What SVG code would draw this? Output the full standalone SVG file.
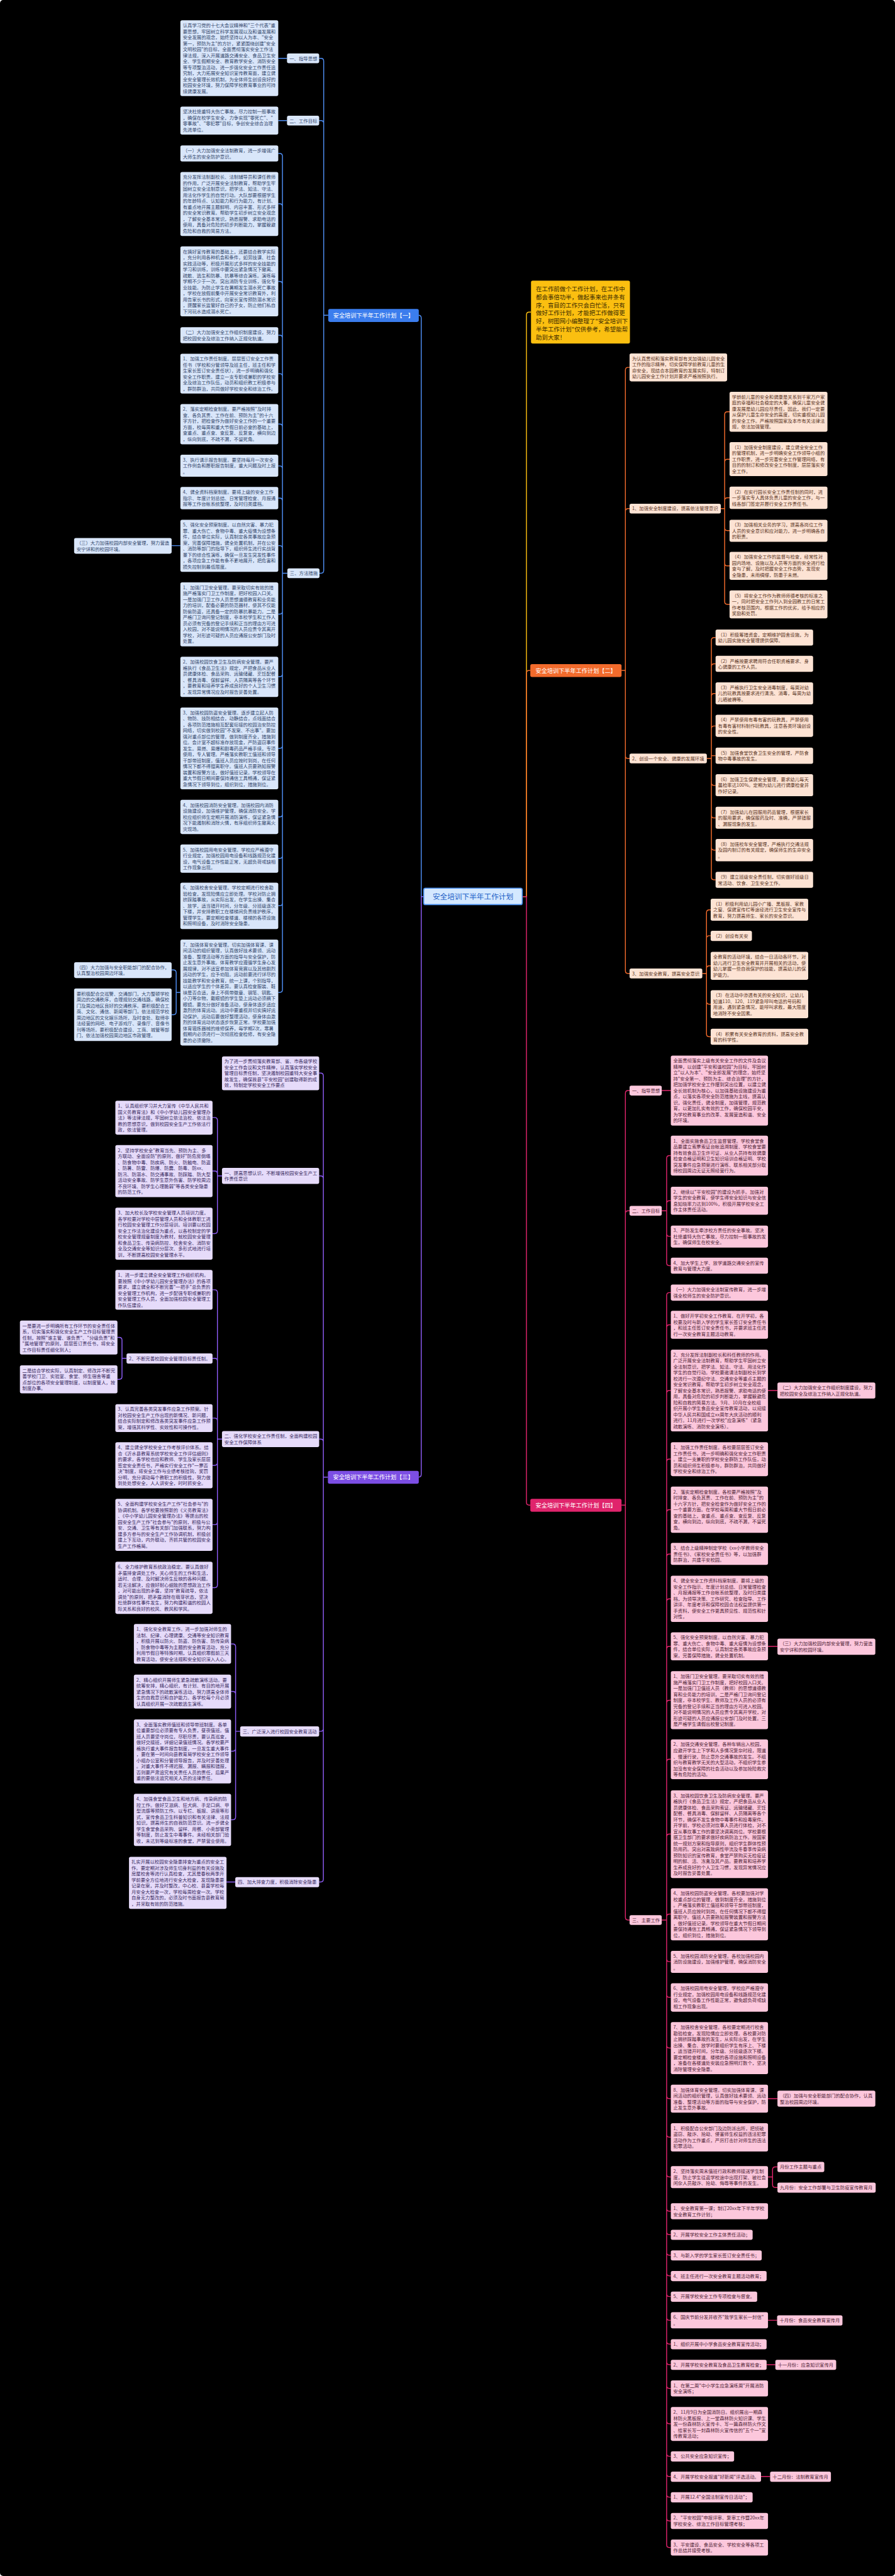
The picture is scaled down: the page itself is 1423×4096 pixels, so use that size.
<svg xmlns="http://www.w3.org/2000/svg" width="1423" height="4096" viewBox="0 0 1423 4096">
<style>
text{font-family:"Noto Sans CJK SC","Noto Sans",sans-serif;font-size:13.3px}
rect{rx:5px;ry:5px}
.b1 rect{fill:#d9e6fa}.b1 text{fill:#33466b}
.b2 rect{fill:#fde3d4}.b2 text{fill:#5a3524}
.b3 rect{fill:#e6dbfa}.b3 text{fill:#382a5e}
.b4 rect{fill:#fcc7dc}.b4 text{fill:#4f2436}
.h text{fill:#fff;font-size:16.5px}
.c{fill:none;stroke-width:2.6}
.c1{stroke:#4f8ff5}.c2{stroke:#f26b2c}.c3{stroke:#8d5cf5}.c4{stroke:#e0246c}.c5{stroke:#fbbf10}
</style>
<rect width="1423" height="4096" fill="#000"/>
<g transform="scale(0.5558)">
<g id="connectors">
<path class="c c5" d="M1494,2565H1506V901Q1506,893 1514,893H1519"/>
<path class="c c1" d="M1212,2565H1205V910Q1205,902 1197,902"/>
<path class="c c2" d="M1494,2565H1506V1926Q1506,1918 1514,1918H1517"/>
<path class="c c3" d="M1212,2565H1205V4218Q1205,4226 1197,4226"/>
<path class="c c4" d="M1494,2565H1506V4298Q1506,4306 1514,4306H1517"/>
<path class="c c1" d="M939,902H926V175Q926,167 918,167H913 M926,353Q926,345 918,345H913 M926,902V1632Q926,1640 918,1640H913 M821,167H796 M821,345H796"/>
<path class="c c1" d="M822,1640H808V447Q808,439 800,439H796 M808,591Q808,583 800,583H796 M808,813Q808,805 800,805H796 M808,967Q808,959 800,959H796 M808,1077Q808,1069 800,1069H796 M808,1221Q808,1213 800,1213H796 M808,1341Q808,1333 800,1333H796 M808,1433Q808,1425 800,1425H796 M808,1569Q808,1561 800,1561H796 M822,1640H808V2831Q808,2839 800,2839H796 M808,1749Q808,1757 800,1757H796 M808,1928Q808,1936 800,1936H796 M808,2133Q808,2141 800,2141H796 M808,2329Q808,2337 800,2337H796 M808,2448Q808,2456 800,2456H796 M808,2583Q808,2591 800,2591H796"/>
<path class="c c1" d="M516,1561H491 M516,2839H504V2783Q504,2775 496,2775H491 M504,2839V2895Q504,2903 496,2903H491"/>
<path class="c c2" d="M1778,1918H1789V1059Q1789,1051 1797,1051H1801 M1789,1463Q1789,1455 1797,1455H1801 M1789,1918V2777Q1789,2785 1797,2785H1801 M1789,2162Q1789,2170 1797,2170H1801"/>
<path class="c c2" d="M2062,1455H2073V1186Q2073,1178 2081,1178H2087 M2073,1322Q2073,1314 2081,1314H2087 M2073,1432Q2073,1424 2081,1424H2087 M2073,1455V1721Q2073,1729 2081,1729H2087 M2073,1510Q2073,1518 2081,1518H2087 M2073,1611Q2073,1619 2081,1619H2087"/>
<path class="c c2" d="M2022,2170H2035V1832Q2035,1824 2043,1824H2047 M2035,1907Q2035,1899 2043,1899H2047 M2035,1992Q2035,1984 2043,1984H2047 M2035,2085Q2035,2077 2043,2077H2047 M2035,2162H2047 M2035,2170V2509Q2035,2517 2043,2517H2047 M2035,2239Q2035,2247 2043,2247H2047 M2035,2332Q2035,2340 2043,2340H2047 M2035,2424Q2035,2432 2043,2432H2047"/>
<path class="c c2" d="M2009,2785H2021V2611Q2021,2603 2029,2603H2033 M2021,2685Q2021,2677 2029,2677H2033 M2021,2771Q2021,2763 2029,2763H2033 M2021,2785V2958Q2021,2966 2029,2966H2033 M2021,2865Q2021,2873 2029,2873H2033"/>
<path class="c c3" d="M938,4226H925V3078Q925,3070 917,3070H913 M925,3372Q925,3364 917,3364H913 M925,4125Q925,4117 917,4117H913 M925,4226V5376Q925,5384 917,5384H913 M925,4945Q925,4953 917,4953H913"/>
<path class="c c3" d="M635,3364H622V3205Q622,3197 614,3197H608 M622,3358Q622,3350 614,3350H608 M622,3364V3521Q622,3529 614,3529H608"/>
<path class="c c3" d="M635,4117H622V3698Q622,3690 614,3690H608 M622,3894Q622,3886 614,3886H608 M622,4065Q622,4057 614,4057H608 M622,4117V4534Q622,4542 614,4542H608 M622,4184Q622,4192 614,4192H608 M622,4354Q622,4362 614,4362H608"/>
<path class="c c3" d="M362,3886H349V3834Q349,3826 341,3826H336 M349,3886V3938Q349,3946 341,3946H336"/>
<path class="c c3" d="M687,4953H674V4711Q674,4703 666,4703H661 M674,4847Q674,4839 666,4839H661 M674,4953V5198Q674,5206 666,5206H661 M674,5002Q674,5010 666,5010H661 M674,5384H648"/>
<path class="c c4" d="M1778,4306H1789V3128Q1789,3120 1797,3120H1801 M1789,3472Q1789,3464 1797,3464H1801 M1789,4306V5485Q1789,5493 1797,5493H1801 M1893,3120H1919"/>
<path class="c c4" d="M1893,3464H1907V3314Q1907,3306 1915,3306H1919 M1907,3443Q1907,3435 1915,3435H1919 M1907,3464V3613Q1907,3621 1915,3621H1919 M1907,3529Q1907,3537 1915,3537H1919"/>
<path class="c c4" d="M1893,5493H1907V3706Q1907,3698 1915,3698H1919 M1907,3798Q1907,3790 1915,3790H1919 M1907,3986Q1907,3978 1915,3978H1919 M1907,4182Q1907,4174 1915,4174H1919 M1907,4327Q1907,4319 1915,4319H1919 M1907,4454Q1907,4446 1915,4446H1919 M1907,4582Q1907,4574 1915,4574H1919 M1907,4718Q1907,4710 1915,4710H1919 M1907,4872Q1907,4864 1915,4864H1919 M1907,5041Q1907,5033 1915,5033H1919 M1907,5255Q1907,5247 1915,5247H1919 M1907,5484Q1907,5476 1915,5476H1919 M1893,5493H1907V7280Q1907,7288 1915,7288H1919 M1907,5604Q1907,5612 1915,5612H1919 M1907,5706Q1907,5714 1915,5714H1919 M1907,5851Q1907,5859 1915,5859H1919 M1907,5996Q1907,6004 1915,6004H1919 M1907,6106Q1907,6114 1915,6114H1919 M1907,6220Q1907,6228 1915,6228H1919 M1907,6318Q1907,6326 1915,6326H1919 M1907,6385Q1907,6393 1915,6393H1919 M1907,6444Q1907,6452 1915,6452H1919 M1907,6503Q1907,6511 1915,6511H1919 M1907,6562Q1907,6570 1915,6570H1919 M1907,6630Q1907,6638 1915,6638H1919 M1907,6698Q1907,6706 1915,6706H1919 M1907,6757Q1907,6765 1915,6765H1919 M1907,6825Q1907,6833 1915,6833H1919 M1907,6926Q1907,6934 1915,6934H1919 M1907,7019Q1907,7027 1915,7027H1919 M1907,7077Q1907,7085 1915,7085H1919 M1907,7136Q1907,7144 1915,7144H1919 M1907,7204Q1907,7212 1915,7212H1919"/>
<path class="c c4" d="M2197,3978H2224 M2197,4710H2224 M2197,6004H2224 M2197,6228H2210V6207Q2210,6199 2218,6199H2224 M2210,6228V6250Q2210,6258 2218,6258H2224 M2197,6638H2223 M2193,6765H2218 M2177,7085H2203"/>
</g>
<g id="center"><rect x="1212" y="2541" width="282" height="47" rx="8" fill="#d4e8ff" stroke="#4a90f0" stroke-width="3"/><text x="1353" y="2572" text-anchor="middle" style="font-size:21px;fill:#1c5fc7">安全培训下半年工作计划</text></g>
<g id="intro"><rect x="1519" y="803" width="283" height="180" fill="#fbbf10"/><text x="1533" y="833" style="font-size:17px;fill:#3a2a00"><tspan x="1533">在工作前做个工作计划，在工作中</tspan><tspan x="1533" dy="23">都会事倍功半，做起事来也井条有</tspan><tspan x="1533" dy="23">序，盲目的工作只会白忙活，只有</tspan><tspan x="1533" dy="23">做好工作计划，才能把工作做得更</tspan><tspan x="1533" dy="23">好，树图网小编整理了"安全培训下</tspan><tspan x="1533" dy="23">半年工作计划"仅供参考，希望能帮</tspan><tspan x="1533" dy="23">助到大家！</tspan></text></g>

<g id="branch1" class="h"><rect x="939" y="884" width="259" height="37" fill="#3b7ded"/><text x="1068.5" y="908.5" text-anchor="middle">安全培训下半年工作计划【一】</text></g>
<g id="branch2" class="h"><rect x="1517" y="1900" width="261" height="37" fill="#f26b2c"/><text x="1647.5" y="1924.5" text-anchor="middle">安全培训下半年工作计划【二】</text></g>
<g id="branch3" class="h"><rect x="938" y="4208" width="260" height="37" fill="#7c4ee4"/><text x="1068" y="4232.5" text-anchor="middle">安全培训下半年工作计划【三】</text></g>
<g id="branch4" class="h"><rect x="1517" y="4288" width="261" height="37" fill="#e0246c"/><text x="1647.5" y="4312.5" text-anchor="middle">安全培训下半年工作计划【四】</text></g>

<g class="b1">
<g id="b1a"><rect x="821" y="153" width="92" height="28"/><text x="828" y="172">一、指导思想</text></g>
<g id="b1b"><rect x="821" y="331" width="92" height="28"/><text x="828" y="350">二、工作目标</text></g>
<g id="b1c"><rect x="822" y="1626" width="92" height="28"/><text x="829" y="1645">三、方法措施</text></g>
<g id="b1-1"><rect x="516" y="58" width="280" height="217"/><text x="523" y="77.5"><tspan x="523">认真学习党的十七大会议精神和"三个代表"重</tspan><tspan x="523" dy="17.1">要思想，牢固树立科学发展观以及和谐发展和</tspan><tspan x="523" dy="17.1">安全发展的观念，始终坚持以人为本、"安全</tspan><tspan x="523" dy="17.1">第一，预防为主"的方针，紧紧围绕创建"安全</tspan><tspan x="523" dy="17.1">文明校园"的目标，全面贯彻落实安全工作法</tspan><tspan x="523" dy="17.1">律法规，深入开展道路交通安全、食品卫生安</tspan><tspan x="523" dy="17.1">全、学生假期安全、教育教学安全、消防安全</tspan><tspan x="523" dy="17.1">等专项整治活动，进一步强化安全工作责任追</tspan><tspan x="523" dy="17.1">究制，大力拓展安全知识宣传教育面，建立健</tspan><tspan x="523" dy="17.1">全安全管理长效机制，为全体师生创设良好的</tspan><tspan x="523" dy="17.1">校园安全环境，努力保障学校教育事业的可持</tspan><tspan x="523" dy="17.1">续健康发展。</tspan></text></g>
<g id="b1-2"><rect x="516" y="305" width="280" height="80"/><text x="523" y="324.5"><tspan x="523">坚决杜绝重特大伤亡事故，尽力控制一般事故</tspan><tspan x="523" dy="17.1">，确保在校学生安全，力争实现"零死亡"、"</tspan><tspan x="523" dy="17.1">零事故"、"零犯罪"目标，争创安全综合治理</tspan><tspan x="523" dy="17.1">先进单位。</tspan></text></g>
<g id="b1-3"><rect x="516" y="416" width="280" height="46"/><text x="523" y="435.5"><tspan x="523">（一）大力加强安全法制教育，进一步增强广</tspan><tspan x="523" dy="17.1">大师生的安全防护意识。</tspan></text></g>
<g id="b1-4"><rect x="516" y="492" width="280" height="183"/><text x="523" y="511.5"><tspan x="523">充分发挥法制副校长、法制辅导员和课任教师</tspan><tspan x="523" dy="17.1">的作用，广泛开展安全法制教育，帮助学生牢</tspan><tspan x="523" dy="17.1">固树立安全法制意识，把学法、知法、守法、</tspan><tspan x="523" dy="17.1">用法化作学生的自觉行动。大队部要根据学生</tspan><tspan x="523" dy="17.1">的年龄特点、认知能力和行为能力，有计划、</tspan><tspan x="523" dy="17.1">有重点地开展主题鲜明、内容丰富、形式多样</tspan><tspan x="523" dy="17.1">的安全常识教育。帮助学生初步树立安全观念</tspan><tspan x="523" dy="17.1">，了解安全基本常识，熟悉报警、求助电话的</tspan><tspan x="523" dy="17.1">使用，具备对危险的初步判断能力，掌握躲避</tspan><tspan x="523" dy="17.1">危险和自救的简易方法。</tspan></text></g>
<g id="b1-5"><rect x="516" y="705" width="280" height="200"/><text x="523" y="724.5"><tspan x="523">在搞好宣传教育的基础上，还要结合教学实际</tspan><tspan x="523" dy="17.1">，充分利用各种机会和条件，如劳技课、社会</tspan><tspan x="523" dy="17.1">实践活动等，积极开展形式多样的安全技能的</tspan><tspan x="523" dy="17.1">学习和训练，训练中要突出紧急情况下撤离、</tspan><tspan x="523" dy="17.1">疏散、逃生和防暴、抗暴等综合演练。演练每</tspan><tspan x="523" dy="17.1">学期不少于一次。突出消防专业训练，强化专</tspan><tspan x="523" dy="17.1">业技能。为防止学生在暑期发生溺水死亡事故</tspan><tspan x="523" dy="17.1">，学校在放假前集中开展安全常识教育外，利</tspan><tspan x="523" dy="17.1">用告家长书的形式，向家长宣传预防溺水常识</tspan><tspan x="523" dy="17.1">，提醒家长监管好自己的子女，防止他们私自</tspan><tspan x="523" dy="17.1">下河玩水造成溺水死亡。</tspan></text></g>
<g id="b1-6"><rect x="516" y="936" width="280" height="46"/><text x="523" y="955.5"><tspan x="523">（二）大力加强安全工作组织制度建设，努力</tspan><tspan x="523" dy="17.1">把校园安全及综治工作纳入正规化轨道。</tspan></text></g>
<g id="b1-7"><rect x="516" y="1012" width="280" height="114"/><text x="523" y="1031.5"><tspan x="523">1、加强工作责任制度。层层签订安全工作责</tspan><tspan x="523" dy="17.1">任书（学校和分管领导及班主任，班主任和学</tspan><tspan x="523" dy="17.1">生家长签订安全责任状），进一步明确和强化</tspan><tspan x="523" dy="17.1">安全工作职责。建立一支专职或兼职的学校安</tspan><tspan x="523" dy="17.1">全及综治工作队伍，动员和组织教工积极参与</tspan><tspan x="523" dy="17.1">，群防群治，共同做好学校安全和综治工作。</tspan></text></g>
<g id="b1-8"><rect x="516" y="1156" width="280" height="115"/><text x="523" y="1175.5"><tspan x="523">2、落实定期检查制度。要严格按照"及时排</tspan><tspan x="523" dy="17.1">查、各负其责、工作在前、预防为主"的十六</tspan><tspan x="523" dy="17.1">字方针，把检查作为做好安全工作的一个重要</tspan><tspan x="523" dy="17.1">方面，校每周和重大节假日前必查的基础上，</tspan><tspan x="523" dy="17.1">查重点、重点查、查反复、反复查，横向到边</tspan><tspan x="523" dy="17.1">，纵向到底，不疏不漏，不留死角。</tspan></text></g>
<g id="b1-9"><rect x="516" y="1301" width="280" height="63"/><text x="523" y="1320.5"><tspan x="523">3、执行请示报告制度。要坚持每月一次安全</tspan><tspan x="523" dy="17.1">工作例会和履职报告制度，重大问题及时上报</tspan><tspan x="523" dy="17.1">。</tspan></text></g>
<g id="b1-10"><rect x="516" y="1393" width="280" height="64"/><text x="523" y="1412.5"><tspan x="523">4、健全资料档案制度。要将上级的安全工作</tspan><tspan x="523" dy="17.1">指示、年度计划总结、日常管理检查、月报通</tspan><tspan x="523" dy="17.1">报等工作台帐系统整理，及时归类建档。</tspan></text></g>
<g id="b1-11"><rect x="516" y="1487" width="280" height="149"/><text x="523" y="1506.5"><tspan x="523">5、强化安全预案制度。以自然灾害、暴力犯</tspan><tspan x="523" dy="17.1">罪、重大伤亡、食物中毒、重大疫情为设想条</tspan><tspan x="523" dy="17.1">件，结合单位实际，认真制定各类事故应急预</tspan><tspan x="523" dy="17.1">案，完善保障措施，健全处置机制，并在公安</tspan><tspan x="523" dy="17.1">、消防等部门的指导下，组织师生进行实战背</tspan><tspan x="523" dy="17.1">景下的综合性演练，确保一旦发生突发性事件</tspan><tspan x="523" dy="17.1">，各项应急工作能有条不紊地展开，把危害和</tspan><tspan x="523" dy="17.1">损失控制到最低限度。</tspan></text></g>
<g id="b1-12"><rect x="516" y="1666" width="280" height="183"/><text x="523" y="1685.5"><tspan x="523">1、加强门卫安全管理。要采取切实有效的措</tspan><tspan x="523" dy="17.1">施严格落实门卫工作制度，把好校园入口关。</tspan><tspan x="523" dy="17.1">一是加强门卫工作人员思想道德教育和业务能</tspan><tspan x="523" dy="17.1">力的培训，配备必要的防范器材，使其不仅能</tspan><tspan x="523" dy="17.1">防偷防盗，还具备一定的防暴抗暴能力。二是</tspan><tspan x="523" dy="17.1">严格门卫询问登记制度，非本校学生和工作人</tspan><tspan x="523" dy="17.1">员必须有完备的登记手续和正当的理由方可进</tspan><tspan x="523" dy="17.1">入校园，对不能说明情况的人员应责令其离开</tspan><tspan x="523" dy="17.1">学校，对形迹可疑的人员应通报公安部门及时</tspan><tspan x="523" dy="17.1">处置。</tspan></text></g>
<g id="b1-13"><rect x="516" y="1879" width="280" height="115"/><text x="523" y="1898.5"><tspan x="523">2、加强校园饮食卫生及防病安全管理。要严</tspan><tspan x="523" dy="17.1">格执行《食品卫生法》规定，严把食品从业人</tspan><tspan x="523" dy="17.1">员健康体检、食品采购、运输储藏、烹饪配餐</tspan><tspan x="523" dy="17.1">、餐具消毒、保鲜留样、人员隔离等各个环节</tspan><tspan x="523" dy="17.1">，要教育和培养学生养成良好的个人卫生习惯</tspan><tspan x="523" dy="17.1">，发现异常情况应及时报告妥善处置。</tspan></text></g>
<g id="b1-14"><rect x="516" y="2024" width="280" height="234"/><text x="523" y="2043.5"><tspan x="523">3、加强校园防盗安全管理。逐步建立起人防</tspan><tspan x="523" dy="17.1">、物防、技防相结合，动静结合，点线面结合</tspan><tspan x="523" dy="17.1">，各项防范措施相互配套衔接的校园治安防控</tspan><tspan x="523" dy="17.1">网络，切实做到校园"不发案、不出事"。要加</tspan><tspan x="523" dy="17.1">强对重点部位的管理，做到制度齐全，措施到</tspan><tspan x="523" dy="17.1">位。会计室不超标准存放现金，严防盗窃事件</tspan><tspan x="523" dy="17.1">发生。易燃、易爆和剧毒药品严格手续，专项</tspan><tspan x="523" dy="17.1">使用，专人管理。严格落实教职工值班和领导</tspan><tspan x="523" dy="17.1">干部带班制度，值班人员应按时到岗，在任何</tspan><tspan x="523" dy="17.1">情况下都不得擅离职守。值班人员要熟知报警</tspan><tspan x="523" dy="17.1">装置和报警方法，做好值班记录。学校领导在</tspan><tspan x="523" dy="17.1">重大节假日期间要保持通信工具畅通，保证紧</tspan><tspan x="523" dy="17.1">急情况下领导到位，组织到位，措施到位。</tspan></text></g>
<g id="b1-15"><rect x="516" y="2288" width="280" height="98"/><text x="523" y="2307.5"><tspan x="523">4、加强校园消防安全管理。加强校园内消防</tspan><tspan x="523" dy="17.1">设施建设，加强维护管理，确保消防安全。学</tspan><tspan x="523" dy="17.1">校应组织师生定期开展消防演练，保证紧急情</tspan><tspan x="523" dy="17.1">况下能遏制和消除火情，有序组织师生撤离火</tspan><tspan x="523" dy="17.1">灾现场。</tspan></text></g>
<g id="b1-16"><rect x="516" y="2416" width="280" height="81"/><text x="523" y="2435.5"><tspan x="523">5、加强校园用电安全管理。学校应严格遵守</tspan><tspan x="523" dy="17.1">行业规定，加强校园用电设备和线路规范化建</tspan><tspan x="523" dy="17.1">设，电气设备工作性能正常，无超负荷或缺相</tspan><tspan x="523" dy="17.1">工作现象出现。</tspan></text></g>
<g id="b1-17"><rect x="516" y="2525" width="280" height="133"/><text x="523" y="2544.5"><tspan x="523">6、加强校舍安全管理。学校定期进行校舍勘</tspan><tspan x="523" dy="17.1">验检查，发现险情应立即处理。学校对防止拥</tspan><tspan x="523" dy="17.1">挤踩踏事故，从实际出发，在学生出操、集合</tspan><tspan x="523" dy="17.1">、放学，适当错开时间，分年级、分班级逐次</tspan><tspan x="523" dy="17.1">下楼，并安排教职工在楼梯间负责维护秩序，</tspan><tspan x="523" dy="17.1">管理学生。要定期检查楼道、楼梯的各项设施</tspan><tspan x="523" dy="17.1">和照明设备，及时消除安全隐患。</tspan></text></g>
<g id="b1-18"><rect x="516" y="2688" width="280" height="303"/><text x="523" y="2707.5"><tspan x="523">7、加强体育安全管理。切实加强体育课、课</tspan><tspan x="523" dy="17.1">间活动的组织管理，认真做好技术要领、运动</tspan><tspan x="523" dy="17.1">准备、整理活动等方面的指导与安全保护，防</tspan><tspan x="523" dy="17.1">止发生意外事故。体育教学应遵循学生身心发</tspan><tspan x="523" dy="17.1">展规律，对不适宜参加体育竞赛以及其他剧烈</tspan><tspan x="523" dy="17.1">运动的学生，应予劝阻。运动前要进行详尽的</tspan><tspan x="523" dy="17.1">技能教学和安全教育，统一上课，个别指导，</tspan><tspan x="523" dy="17.1">以适应学生的个体差异。要认真检查服装、鞋</tspan><tspan x="523" dy="17.1">袜是否合适，身上不佩带徽章、钢笔、钥匙、</tspan><tspan x="523" dy="17.1">小刀等杂物，戴眼镜的学生垫上运动必须摘下</tspan><tspan x="523" dy="17.1">眼镜。要充分做好准备活动，使身体逐步适应</tspan><tspan x="523" dy="17.1">激烈的体育运动。运动中要重视并切实搞好运</tspan><tspan x="523" dy="17.1">动保护。运动后要做好整理活动，使身体由激</tspan><tspan x="523" dy="17.1">烈的体育运动状态逐步恢复正常。学校要加强</tspan><tspan x="523" dy="17.1">体育锻炼器械的维修保养，每学期2次，寒暑</tspan><tspan x="523" dy="17.1">假期内必须进行一次彻底检查检修，有安全隐</tspan><tspan x="523" dy="17.1">患的必须撤除。</tspan></text></g>
<g id="b1-19"><rect x="212" y="1539" width="279" height="45"/><text x="219" y="1558.5"><tspan x="219">（三）大力加强校园内部安全管理，努力营造</tspan><tspan x="219" dy="17.1">安宁详和的校园环境。</tspan></text></g>
<g id="b1-20"><rect x="212" y="2753" width="279" height="45"/><text x="219" y="2772.5"><tspan x="219">（四）大力加强与安全职能部门的配合协作，</tspan><tspan x="219" dy="17.1">认真整治校园周边环境。</tspan></text></g>
<g id="b1-21"><rect x="212" y="2828" width="279" height="150"/><text x="219" y="2847.5"><tspan x="219">要积极配合交巡警、交通部门，大力整顿学校</tspan><tspan x="219" dy="17.1">周边的交通秩序，合理规划交通线路，确保校</tspan><tspan x="219" dy="17.1">门及周边地区良好的交通秩序。要积极配合工</tspan><tspan x="219" dy="17.1">商、文化、通信、新闻等部门，依法规范学校</tspan><tspan x="219" dy="17.1">周边地区的文化娱乐场所，及时查处、取缔非</tspan><tspan x="219" dy="17.1">法经营的网吧、电子游戏厅、录像厅、音像书</tspan><tspan x="219" dy="17.1">刊等场所。要积极配合建设、工商、城管等部</tspan><tspan x="219" dy="17.1">门，依法加强校园周边地区市政管理。</tspan></text></g>
</g>

<g class="b2">
<g id="b2a"><rect x="1801" y="1011" width="279" height="80"/><text x="1808" y="1030.5"><tspan x="1808">为认真贯彻和落实教育部有关加强幼儿园安全</tspan><tspan x="1808" dy="17.1">工作的指示精神，切实保障学前教育儿童的生</tspan><tspan x="1808" dy="17.1">命安全，现结合本园教育的发展实际，特制订</tspan><tspan x="1808" dy="17.1">幼儿园安全工作计划并要求严格按照执行。</tspan></text></g>
<g id="b2b"><rect x="1801" y="1441" width="261" height="28"/><text x="1808" y="1460">1、加强安全制度建设，提高依法管理意识</text></g>
<g id="b2c"><rect x="1801" y="2156" width="221" height="28"/><text x="1808" y="2175">2、创设一个安全、健康的发展环境</text></g>
<g id="b2d"><rect x="1801" y="2771" width="208" height="28"/><text x="1808" y="2790">3、加强安全教育，提高安全意识</text></g>
<g id="b2b-0"><rect x="2087" y="1121" width="280" height="114"/><text x="2094" y="1140.5"><tspan x="2094">学龄前儿童的安全和健康是关系到千家万户家</tspan><tspan x="2094" dy="17.1">庭的幸福和社会稳定的大事，确保儿童安全健</tspan><tspan x="2094" dy="17.1">康发展是幼儿园应尽责任。因此，我们一定要</tspan><tspan x="2094" dy="17.1">从保护儿童生命安全的高度，切实重视幼儿园</tspan><tspan x="2094" dy="17.1">的安全工作。严格按照国家及本市有关法律法</tspan><tspan x="2094" dy="17.1">规，依法加强管理。</tspan></text></g>
<g id="b2b-1"><rect x="2087" y="1265" width="280" height="97"/><text x="2094" y="1284.5"><tspan x="2094">（1）加强安全制度建设，建立健全安全工作</tspan><tspan x="2094" dy="17.1">的管理机制，进一步明确安全工作领导小组的</tspan><tspan x="2094" dy="17.1">工作职责，进一步完善安全工作管理网络，有</tspan><tspan x="2094" dy="17.1">目的的制订和修改安全工作制度，层层落实安</tspan><tspan x="2094" dy="17.1">全工作。</tspan></text></g>
<g id="b2b-2"><rect x="2087" y="1392" width="280" height="64"/><text x="2094" y="1411.5"><tspan x="2094">（2）在实行园长安全工作责任制的同时，进</tspan><tspan x="2094" dy="17.1">一步落实专人具体负责儿童的安全工作，与一</tspan><tspan x="2094" dy="17.1">线各部门签定并履行安全工作责任书。</tspan></text></g>
<g id="b2b-3"><rect x="2087" y="1487" width="280" height="63"/><text x="2094" y="1506.5"><tspan x="2094">（3）加强相关业务的学习，提高各岗位工作</tspan><tspan x="2094" dy="17.1">人员的安全意识和应对能力，进一步明确各自</tspan><tspan x="2094" dy="17.1">的职责。</tspan></text></g>
<g id="b2b-4"><rect x="2087" y="1579" width="280" height="80"/><text x="2094" y="1598.5"><tspan x="2094">（4）加强安全工作的监督与检查，经常性对</tspan><tspan x="2094" dy="17.1">园内场地、设施以及人员等方面的安全进行检</tspan><tspan x="2094" dy="17.1">查与了解，及时把握安全工作态势，发现安</tspan><tspan x="2094" dy="17.1">全隐患，未雨绸缪，防患于未燃。</tspan></text></g>
<g id="b2b-5"><rect x="2087" y="1689" width="280" height="80"/><text x="2094" y="1708.5"><tspan x="2094">（5）将安全工作作为教师师德考核的标准之</tspan><tspan x="2094" dy="17.1">一，同时把安全工作列入到全园教工的日常工</tspan><tspan x="2094" dy="17.1">作考核范围内，根据工作的优劣，给予相应的</tspan><tspan x="2094" dy="17.1">奖励和处罚。</tspan></text></g>
<g id="b2c-1"><rect x="2047" y="1801" width="279" height="46"/><text x="2054" y="1820.5"><tspan x="2054">（1）积极筹措资金，定期维护园舍设施，为</tspan><tspan x="2054" dy="17.1">幼儿园实施安全管理提供保障。</tspan></text></g>
<g id="b2c-2"><rect x="2047" y="1876" width="279" height="46"/><text x="2054" y="1895.5"><tspan x="2054">（2）严格按要求聘用符合任职资格要求、身</tspan><tspan x="2054" dy="17.1">心健康的工作人员。</tspan></text></g>
<g id="b2c-3"><rect x="2047" y="1952" width="279" height="63"/><text x="2054" y="1971.5"><tspan x="2054">（3）严格执行卫生安全消毒制度，每周对幼</tspan><tspan x="2054" dy="17.1">儿的玩教具按要求进行清洗、消毒，每周为幼</tspan><tspan x="2054" dy="17.1">儿晒被褥等。</tspan></text></g>
<g id="b2c-4"><rect x="2047" y="2045" width="279" height="63"/><text x="2054" y="2064.5"><tspan x="2054">（4）严禁使用有毒有害的玩教具，严禁使用</tspan><tspan x="2054" dy="17.1">有毒有害材料制作玩教具，注意各类环境创设</tspan><tspan x="2054" dy="17.1">的安全性。</tspan></text></g>
<g id="b2c-5"><rect x="2047" y="2139" width="279" height="46"/><text x="2054" y="2158.5"><tspan x="2054">（5）加强食堂饮食卫生安全的管理，严防食</tspan><tspan x="2054" dy="17.1">物中毒事故的发生。</tspan></text></g>
<g id="b2c-6"><rect x="2047" y="2215" width="279" height="63"/><text x="2054" y="2234.5"><tspan x="2054">（6）加强卫生保健安全管理，要求幼儿每天</tspan><tspan x="2054" dy="17.1">晨检率达100%。定期为幼儿进行健康检查并</tspan><tspan x="2054" dy="17.1">作好记录。</tspan></text></g>
<g id="b2c-7"><rect x="2047" y="2308" width="279" height="63"/><text x="2054" y="2327.5"><tspan x="2054">（7）加强幼儿在园服用药品管理，根据家长</tspan><tspan x="2054" dy="17.1">的服用要求，确保服药及时、准确，严禁错服</tspan><tspan x="2054" dy="17.1">、漏服现象的发生。</tspan></text></g>
<g id="b2c-8"><rect x="2047" y="2400" width="279" height="64"/><text x="2054" y="2419.5"><tspan x="2054">（8）加强校车安全管理，严格执行交通法规</tspan><tspan x="2054" dy="17.1">及园内制订的有关规定，确保师生的生命安全</tspan><tspan x="2054" dy="17.1">。</tspan></text></g>
<g id="b2c-9"><rect x="2047" y="2494" width="279" height="46"/><text x="2054" y="2513.5"><tspan x="2054">（9）建立班级安全责任制，切实做好班级日</tspan><tspan x="2054" dy="17.1">常活动、饮食、卫生安全工作。</tspan></text></g>
<g id="b2d-1"><rect x="2033" y="2571" width="279" height="63"/><text x="2040" y="2590.5"><tspan x="2040">（1）积极利用幼儿园小广播、黑板报、家教</tspan><tspan x="2040" dy="17.1">之窗、保健宣传栏等途径进行卫生安全宣传与</tspan><tspan x="2040" dy="17.1">教育，努力提高师生、家长的安全意识。</tspan></text></g>
<g id="b2d-2"><rect x="2033" y="2663" width="118" height="29"/><text x="2040" y="2682">（2）创设有关安</text></g>
<g id="b2d-3"><rect x="2033" y="2723" width="279" height="80"/><text x="2040" y="2742.5"><tspan x="2040">全教育的活动环境，结合一日活动各环节，对</tspan><tspan x="2040" dy="17.1">幼儿进行卫生安全教育并开展相关的活动，使</tspan><tspan x="2040" dy="17.1">幼儿掌握一些自我保护的技能，提高幼儿的保</tspan><tspan x="2040" dy="17.1">护能力。</tspan></text></g>
<g id="b2d-4"><rect x="2033" y="2833" width="279" height="80"/><text x="2040" y="2852.5"><tspan x="2040">（3）在活动中渗透有关的安全知识，让幼儿</tspan><tspan x="2040" dy="17.1">知道110、120、119紧急呼叫电话的号码和</tspan><tspan x="2040" dy="17.1">用途，遇到紧急情况，能呼叫求救，最大限度</tspan><tspan x="2040" dy="17.1">地消除不安全因素。</tspan></text></g>
<g id="b2d-5"><rect x="2033" y="2943" width="279" height="46"/><text x="2040" y="2962.5"><tspan x="2040">（4）积累有关安全教育的资料，提高安全教</tspan><tspan x="2040" dy="17.1">育的科学性。</tspan></text></g>
</g>

<g class="b3">
<g id="b3a"><rect x="635" y="3022" width="278" height="97"/><text x="642" y="3041.5"><tspan x="642">为了进一步贯彻落实教育部、省、市各级学校</tspan><tspan x="642" dy="17.1">安全工作会议和文件精神，认真落实学校安全</tspan><tspan x="642" dy="17.1">管理目标责任制，坚决遏制校园重特大安全事</tspan><tspan x="642" dy="17.1">故发生，确保我县"平安校园"创建取得新的成</tspan><tspan x="642" dy="17.1">效，特制定学校安全工作要点</tspan></text></g>
<g id="b3b"><rect x="635" y="3341" width="278" height="46"/><text x="642" y="3360.5"><tspan x="642">一、提高思想认识，不断增强校园安全生产工</tspan><tspan x="642" dy="17.1">作责任意识</tspan></text></g>
<g id="b3c"><rect x="635" y="4094" width="278" height="46"/><text x="642" y="4113.5"><tspan x="642">二、强化学校安全工作责任制，全面构建校园</tspan><tspan x="642" dy="17.1">安全工作保障体系</tspan></text></g>
<g id="b3d"><rect x="687" y="4939" width="226" height="29"/><text x="694" y="4958">三、广泛深入进行校园安全教育活动</text></g>
<g id="b3e"><rect x="673" y="5370" width="240" height="29"/><text x="680" y="5389">四、加大排查力度，积极消除安全隐患</text></g>
<g id="b3b-1"><rect x="330" y="3149" width="278" height="97"/><text x="337" y="3168.5"><tspan x="337">1、认真组织学习并大力宣传《中华人民共和</tspan><tspan x="337" dy="17.1">国义务教育法》和《中小学幼儿园安全管理办</tspan><tspan x="337" dy="17.1">法》等法律法规，牢固树立依法治校、依法治</tspan><tspan x="337" dy="17.1">教的思想意识，做到校园安全生产工作依法行</tspan><tspan x="337" dy="17.1">政，依法管理。</tspan></text></g>
<g id="b3b-2"><rect x="330" y="3276" width="278" height="149"/><text x="337" y="3295.5"><tspan x="337">2、坚持学校安全"教育当先、预防为主、多</tspan><tspan x="337" dy="17.1">方联动、全面设防"的原则，做好"防危房倒塌</tspan><tspan x="337" dy="17.1">、防食物中毒、防疾病、防火、防触电、防盗</tspan><tspan x="337" dy="17.1">、防暑、防雷、防爆、防震、防毒、防xx、</tspan><tspan x="337" dy="17.1">防汛、防溺水、防交通事故、防踩踏、防大型</tspan><tspan x="337" dy="17.1">活动安全事故、防学生意外伤害、防学校周边</tspan><tspan x="337" dy="17.1">不良环境、防学生心理脆弱"等各类安全隐患</tspan><tspan x="337" dy="17.1">的防范工作。</tspan></text></g>
<g id="b3b-3"><rect x="330" y="3455" width="278" height="149"/><text x="337" y="3474.5"><tspan x="337">3、加大校长及学校安全管理人员培训力度。</tspan><tspan x="337" dy="17.1">各学校要对学校中层管理人员和全体教职工进</tspan><tspan x="337" dy="17.1">行校园安全管理工作分层培训。培训要以校园</tspan><tspan x="337" dy="17.1">安全工作法治化建设为重点，以各校制定的学</tspan><tspan x="337" dy="17.1">校安全管理规章制度为教材，就校园安全管理</tspan><tspan x="337" dy="17.1">和食品卫生、传染病防控、校舍安全、消防安</tspan><tspan x="337" dy="17.1">全及交通安全等知识分层次、多形式地进行培</tspan><tspan x="337" dy="17.1">训，不断提高校园安全管理水平。</tspan></text></g>
<g id="b3c-1"><rect x="330" y="3633" width="278" height="114"/><text x="337" y="3652.5"><tspan x="337">1、进一步建立健全安全管理工作组织机构。</tspan><tspan x="337" dy="17.1">要按照《中小学幼儿园安全管理办法》的各项</tspan><tspan x="337" dy="17.1">要求，建立健全和不断完善"一把手"总负责的</tspan><tspan x="337" dy="17.1">安全管理工作机构，进一步配强专职或兼职的</tspan><tspan x="337" dy="17.1">安全管理工作人员，全面加强校园安全管理工</tspan><tspan x="337" dy="17.1">作队伍建设。</tspan></text></g>
<g id="b3c-2"><rect x="362" y="3872" width="246" height="29"/><text x="369" y="3891">2、不断完善校园安全管理目标责任制。</text></g>
<g id="b3c-2a"><rect x="57" y="3778" width="279" height="97"/><text x="64" y="3797.5"><tspan x="64">一是要进一步明确所有工作环节的安全责任体</tspan><tspan x="64" dy="17.1">系，切实落实和强化安全生产工作目标管理责</tspan><tspan x="64" dy="17.1">任制，按照"谁主管、谁负责"、"分级负责"和</tspan><tspan x="64" dy="17.1">"属地管理"的原则，层层签订责任书，将安全</tspan><tspan x="64" dy="17.1">工作目标责任细化到人；</tspan></text></g>
<g id="b3c-2b"><rect x="57" y="3906" width="279" height="80"/><text x="64" y="3925.5"><tspan x="64">二是结合学校实际，认真制定、修改并不断完</tspan><tspan x="64" dy="17.1">善学校门卫、实验室、食堂、师生宿舍等重</tspan><tspan x="64" dy="17.1">点部位的各项安全管理制度，以制度管人，按</tspan><tspan x="64" dy="17.1">制度办事。</tspan></text></g>
<g id="b3c-3"><rect x="330" y="4017" width="278" height="80"/><text x="337" y="4036.5"><tspan x="337">3、认真完善各类突发事件应急工作预案。针</tspan><tspan x="337" dy="17.1">对校园安全生产工作出现的新情况、新问题，</tspan><tspan x="337" dy="17.1">结合实际制定和修改各类突发事件应急工作预</tspan><tspan x="337" dy="17.1">案，增强其科学性、实效性和可操作性。</tspan></text></g>
<g id="b3c-4"><rect x="330" y="4126" width="278" height="132"/><text x="337" y="4145.5"><tspan x="337">4、建立健全学校安全工作考核评价体系。结</tspan><tspan x="337" dy="17.1">合《沂水县教育系统学校安全工作评估细则》</tspan><tspan x="337" dy="17.1">的要求，各学校也应和教师、学生及家长层层</tspan><tspan x="337" dy="17.1">签定安全责任书，严格实行安全工作"一票否</tspan><tspan x="337" dy="17.1">决"制度，将安全工作与业绩考核挂钩，奖罚</tspan><tspan x="337" dy="17.1">分明，充分调动每个教职工的积极性，努力做</tspan><tspan x="337" dy="17.1">到处处想安全，人人讲安全，时时抓安全。</tspan></text></g>
<g id="b3c-5"><rect x="330" y="4288" width="278" height="149"/><text x="337" y="4307.5"><tspan x="337">5、全面构建学校安全生产工作"社会参与"的</tspan><tspan x="337" dy="17.1">协调机制。各学校要按照新的《义务教育法》</tspan><tspan x="337" dy="17.1">、《中小学幼儿园安全管理办法》等提出的校</tspan><tspan x="337" dy="17.1">园安全生产工作"社会参与"的原则，积极与公</tspan><tspan x="337" dy="17.1">安、交通、卫生等有关部门加强联系，努力构</tspan><tspan x="337" dy="17.1">建多方参与的安全生产工作协调机制，积极创</tspan><tspan x="337" dy="17.1">建上下互动，内外联动，齐抓共管的校园安全</tspan><tspan x="337" dy="17.1">生产工作格局。</tspan></text></g>
<g id="b3c-6"><rect x="330" y="4468" width="278" height="149"/><text x="337" y="4487.5"><tspan x="337">6、全力维护教育系统政治稳定。要认真做好</tspan><tspan x="337" dy="17.1">矛盾排查调处工作，关心师生的工作和生活，</tspan><tspan x="337" dy="17.1">适时、合理、及时解决师生反映的各种问题。</tspan><tspan x="337" dy="17.1">若无法解决，应做好耐心细致的思想政治工作</tspan><tspan x="337" dy="17.1">，对可能出现的矛盾，坚持"教育疏导，依法</tspan><tspan x="337" dy="17.1">调处"的原则，把矛盾消除在萌芽状态，坚决</tspan><tspan x="337" dy="17.1">杜绝群体性事件发生，努力构建和谐的校园人</tspan><tspan x="337" dy="17.1">际关系和良好的校风、教风和学风。</tspan></text></g>
<g id="b3d-1"><rect x="383" y="4646" width="278" height="114"/><text x="390" y="4665.5"><tspan x="390">1、强化安全教育工作。进一步加强对师生的</tspan><tspan x="390" dy="17.1">法制、纪律、心理健康、交通等安全知识教育</tspan><tspan x="390" dy="17.1">，积极开展以防火、防盗、防伤害、防传染病</tspan><tspan x="390" dy="17.1">、防食物中毒等为主题的安全教育活动，充分</tspan><tspan x="390" dy="17.1">利用节假日等特殊时期，认真组织寒假前三天</tspan><tspan x="390" dy="17.1">教育活动，使安全法规和安全知识深入人心。</tspan></text></g>
<g id="b3d-2"><rect x="383" y="4791" width="278" height="97"/><text x="390" y="4810.5"><tspan x="390">2、精心组织开展师生紧急疏散演练活动。要</tspan><tspan x="390" dy="17.1">统筹安排，精心组织，有计划、有目的地开展</tspan><tspan x="390" dy="17.1">紧急情况下的疏散演练活动，努力提高全体师</tspan><tspan x="390" dy="17.1">生的自救意识和自护能力。各学校每个月必须</tspan><tspan x="390" dy="17.1">认真组织开展一次疏散逃生演练。</tspan></text></g>
<g id="b3d-3"><rect x="383" y="4919" width="278" height="183"/><text x="390" y="4938.5"><tspan x="390">3、全面落实教师值班和领导带班制度。各单</tspan><tspan x="390" dy="17.1">位重要部位必须要有专人负责，昼夜值班。值</tspan><tspan x="390" dy="17.1">班人员要坚守岗位，尽职尽责，要认真巡查，</tspan><tspan x="390" dy="17.1">做好交接班，详细记录值班情况。各学校要严</tspan><tspan x="390" dy="17.1">格执行重大事件报告制度，一旦发生重大事件</tspan><tspan x="390" dy="17.1">，要在第一时间向县教育局学校安全工作领导</tspan><tspan x="390" dy="17.1">小组办公室和分管领导报告，并及时妥善处理</tspan><tspan x="390" dy="17.1">。对重大事件不得迟报、漏报、瞒报和错报，</tspan><tspan x="390" dy="17.1">否则要严肃追究有关责任人员的责任，后果严</tspan><tspan x="390" dy="17.1">重的要依法追究相关人员的法律责任。</tspan></text></g>
<g id="b3d-4"><rect x="383" y="5132" width="278" height="149"/><text x="390" y="5151.5"><tspan x="390">4、加强食堂食品卫生和地方病、传染病的防</tspan><tspan x="390" dy="17.1">控工作。做好艾滋病、狂犬病、手足口病、甲</tspan><tspan x="390" dy="17.1">型流感等预防工作。以专栏、板报、讲座等形</tspan><tspan x="390" dy="17.1">式，宣传食品卫生科普知识和有关法律、法规</tspan><tspan x="390" dy="17.1">知识，提高师生的自我防范意识。进一步健全</tspan><tspan x="390" dy="17.1">学生食堂食品采购、留样、用餐、小卖部管理</tspan><tspan x="390" dy="17.1">等制度，防止发生中毒事件。未经相关部门验</tspan><tspan x="390" dy="17.1">收，未达到等级标准的食堂，严禁营业使用。</tspan></text></g>
<g id="b3e-1"><rect x="369" y="5312" width="279" height="149"/><text x="376" y="5331.5"><tspan x="376">扎实开展以校园安全隐患排查为重点的安全工</tspan><tspan x="376" dy="17.1">作。要定期对涉及师生切身利益的有关设施及</tspan><tspan x="376" dy="17.1">房屋校舍等进行认真检查，尤其是春秋两季开</tspan><tspan x="376" dy="17.1">学前要全方位地进行安全大检查，发现隐患要</tspan><tspan x="376" dy="17.1">记录在案，并及时整改，中心校、县直学校每</tspan><tspan x="376" dy="17.1">月安全大检查一次，学校每周检查一次。学校</tspan><tspan x="376" dy="17.1">自身无力整改的，必须及时书面报告县教育局</tspan><tspan x="376" dy="17.1">，并采取有效的防范措施。</tspan></text></g>
</g>

<g class="b4">
<g id="b4a"><rect x="1801" y="3106" width="92" height="28"/><text x="1808" y="3125">一、指导思想</text></g>
<g id="b4b"><rect x="1801" y="3450" width="92" height="28"/><text x="1808" y="3469">二、工作目标</text></g>
<g id="b4c"><rect x="1801" y="5479" width="92" height="28"/><text x="1808" y="5498">三、主要工作</text></g>
<g id="b4a-1"><rect x="1919" y="3020" width="278" height="200"/><text x="1926" y="3039.5"><tspan x="1926">全面贯彻落实上级有关安全工作的文件及会议</tspan><tspan x="1926" dy="17.1">精神，以创建"平安和谐校园"为目标，牢固树</tspan><tspan x="1926" dy="17.1">立"以人为本"、"安全即发展"的理念，始终坚</tspan><tspan x="1926" dy="17.1">持"安全第一、预防为主、综合治理"的方针，</tspan><tspan x="1926" dy="17.1">把加强学校安全工作摆到突出位置，以建立健</tspan><tspan x="1926" dy="17.1">全长效机制为核心，以加强基础设施建设为重</tspan><tspan x="1926" dy="17.1">点，以落实各项安全防范措施为主线，提高认</tspan><tspan x="1926" dy="17.1">识，强化责任，健全制度，加强管理，规范教</tspan><tspan x="1926" dy="17.1">育，以更加扎实有效的工作，确保校园平安，</tspan><tspan x="1926" dy="17.1">为学校教育事业的改革、发展营造和谐、安全</tspan><tspan x="1926" dy="17.1">的环境。</tspan></text></g>
<g id="b4b-1"><rect x="1919" y="3249" width="278" height="114"/><text x="1926" y="3268.5"><tspan x="1926">1、全面实施食品卫生监督管理。学校食堂食</tspan><tspan x="1926" dy="17.1">品要建立索票索证台帐追溯制度、学校食堂要</tspan><tspan x="1926" dy="17.1">持有效食品卫生许可证、从业人员持有效健康</tspan><tspan x="1926" dy="17.1">检查合格证明和卫生知识培训合格证明、学校</tspan><tspan x="1926" dy="17.1">突发事件应急预案进行演练、联系相关部分取</tspan><tspan x="1926" dy="17.1">缔校园周边无证无照经营行为。</tspan></text></g>
<g id="b4b-2"><rect x="1919" y="3395" width="278" height="80"/><text x="1926" y="3414.5"><tspan x="1926">2、继续以"平安校园"的建设为抓手。加强对</tspan><tspan x="1926" dy="17.1">学生的安全教育，使学生得安全知识与安全信</tspan><tspan x="1926" dy="17.1">息知晓率力达到100%，积极开展学校安全工</tspan><tspan x="1926" dy="17.1">作主体责任活动。</tspan></text></g>
<g id="b4b-3"><rect x="1919" y="3506" width="278" height="63"/><text x="1926" y="3525.5"><tspan x="1926">3、严防发生牵涉校方责任的安全事故。坚决</tspan><tspan x="1926" dy="17.1">杜绝重特大伤亡事故，尽力控制一般事故的发</tspan><tspan x="1926" dy="17.1">生，确保师生在校安全。</tspan></text></g>
<g id="b4b-4"><rect x="1919" y="3598" width="278" height="46"/><text x="1926" y="3617.5"><tspan x="1926">4、加大学生上学、放学道路交通安全的宣传</tspan><tspan x="1926" dy="17.1">教育与管理大力度。</tspan></text></g>
<g id="b4c-1"><rect x="1919" y="3675" width="278" height="46"/><text x="1926" y="3694.5"><tspan x="1926">（一）大力加强安全法制宣传教育，进一步增</tspan><tspan x="1926" dy="17.1">强全校师生的安全防护意识。</tspan></text></g>
<g id="b4c-2"><rect x="1919" y="3750" width="278" height="80"/><text x="1926" y="3769.5"><tspan x="1926">1、做好开学初安全工作教育。在开学初，各</tspan><tspan x="1926" dy="17.1">校要及时与新入学的学生家长签订安全责任书</tspan><tspan x="1926" dy="17.1">，和班主任签订安全责任书，并要求班主任进</tspan><tspan x="1926" dy="17.1">行一次安全教育主题活动教育。</tspan></text></g>
<g id="b4c-3"><rect x="1919" y="3861" width="278" height="234"/><text x="1926" y="3880.5"><tspan x="1926">2、充分发挥法制副校长和科任教师的作用。</tspan><tspan x="1926" dy="17.1">广泛开展安全法制教育，帮助学生牢固树立安</tspan><tspan x="1926" dy="17.1">全法制意识，把学法、知法、守法、用法化作</tspan><tspan x="1926" dy="17.1">学生的自觉行动。学校要邀请法制副校长到学</tspan><tspan x="1926" dy="17.1">校进行一次遵纪守法、交通安全等重点主题的</tspan><tspan x="1926" dy="17.1">安全常识教育。帮助学生初步树立安全观念，</tspan><tspan x="1926" dy="17.1">了解安全基本常识，熟悉报警、求助电话的使</tspan><tspan x="1926" dy="17.1">用，具备对危险的初步判断能力，掌握躲避危</tspan><tspan x="1926" dy="17.1">险和自救的简易方法。 9月、10月在全校组</tspan><tspan x="1926" dy="17.1">织开展小学生食品安全宣传教育活动，以迎接</tspan><tspan x="1926" dy="17.1">中华人民共和国成立xx周年大庆活动的顺利</tspan><tspan x="1926" dy="17.1">进行。11月进行一次学校"应急演练"（紧急</tspan><tspan x="1926" dy="17.1">疏散演练、消防安全演练）。</tspan></text></g>
<g id="b4c-4"><rect x="1919" y="4126" width="278" height="97"/><text x="1926" y="4145.5"><tspan x="1926">1、加强工作责任制度。各校要层层签订安全</tspan><tspan x="1926" dy="17.1">工作责任书，进一步明确和强化安全工作职责</tspan><tspan x="1926" dy="17.1">。建立一支兼职的学校安全群防工作队伍，动</tspan><tspan x="1926" dy="17.1">员和组织师生积极参与，群防群治，共同做好</tspan><tspan x="1926" dy="17.1">学校安全和综治工作。</tspan></text></g>
<g id="b4c-5"><rect x="1919" y="4253" width="278" height="132"/><text x="1926" y="4272.5"><tspan x="1926">2、落实定期检查制度。各校要严格按照"及</tspan><tspan x="1926" dy="17.1">时排查、各负其责、工作在前、预防为主"的</tspan><tspan x="1926" dy="17.1">十六字方针，把安全检查作为做好安全工作的</tspan><tspan x="1926" dy="17.1">一个重要方面。在学校每周和重大节假日前必</tspan><tspan x="1926" dy="17.1">查的基础上，查重点、重点查、查反复、反复</tspan><tspan x="1926" dy="17.1">查，横向到边，纵向到底，不疏不漏，不留死</tspan><tspan x="1926" dy="17.1">角。</tspan></text></g>
<g id="b4c-6"><rect x="1919" y="4414" width="278" height="63"/><text x="1926" y="4433.5"><tspan x="1926">3、结合上级精神制定学校《xx小学教师安全</tspan><tspan x="1926" dy="17.1">责任书》、《家校安全责任书》等，以加强群</tspan><tspan x="1926" dy="17.1">防群治，共建平安校园。</tspan></text></g>
<g id="b4c-7"><rect x="1919" y="4508" width="278" height="132"/><text x="1926" y="4527.5"><tspan x="1926">4、健全安全工作资料档案制度。要将上级的</tspan><tspan x="1926" dy="17.1">安全工作指示、年度计划总结、日常管理检查</tspan><tspan x="1926" dy="17.1">、月报通报等工作台帐系统整理，及时归类建</tspan><tspan x="1926" dy="17.1">档，为领导决策、工作研究、检查指导、工作</tspan><tspan x="1926" dy="17.1">讲评、年度考评和保障校园合法权益提供第一</tspan><tspan x="1926" dy="17.1">手资料，使安全工作更具预见性、规范性和针</tspan><tspan x="1926" dy="17.1">对性，</tspan></text></g>
<g id="b4c-8"><rect x="1919" y="4670" width="278" height="80"/><text x="1926" y="4689.5"><tspan x="1926">5、强化安全预案制度。以自然灾害、暴力犯</tspan><tspan x="1926" dy="17.1">罪、重大伤亡、食物中毒、重大疫情为设想条</tspan><tspan x="1926" dy="17.1">件，结合单位实际，认真制定各类事故应急预</tspan><tspan x="1926" dy="17.1">案，完善保障措施，健全处置机制。</tspan></text></g>
<g id="b4c-9"><rect x="1919" y="4781" width="278" height="166"/><text x="1926" y="4800.5"><tspan x="1926">1、加强门卫安全管理。要采取切实有效的措</tspan><tspan x="1926" dy="17.1">施严格落实门卫工作制度，把好校园入口关。</tspan><tspan x="1926" dy="17.1">一是加强门卫值班人员（教师）的思想道德教</tspan><tspan x="1926" dy="17.1">育和业务能力的培训，二是严格门卫询问登记</tspan><tspan x="1926" dy="17.1">制度，非本校学生、教师及工作人员的必须有</tspan><tspan x="1926" dy="17.1">完备的登记手续和正当的理由方可进入校园。</tspan><tspan x="1926" dy="17.1">对不能说明情况的人员应责令其离开学校，对</tspan><tspan x="1926" dy="17.1">形迹可疑的人员应通报公安部门及时处置。三</tspan><tspan x="1926" dy="17.1">是严格学生请假出校登记制度。</tspan></text></g>
<g id="b4c-10"><rect x="1919" y="4976" width="278" height="114"/><text x="1926" y="4995.5"><tspan x="1926">2、加强交通安全管理。各种车辆出入校园，</tspan><tspan x="1926" dy="17.1">应避开学生上下学和人多情况复杂时段，限道</tspan><tspan x="1926" dy="17.1">、慢速行驶，防止意外交通事故的发生。不组</tspan><tspan x="1926" dy="17.1">织与教育教学无关的大型活动，不组织学生参</tspan><tspan x="1926" dy="17.1">加没有安全保障的社会活动以及参加抢险救灾</tspan><tspan x="1926" dy="17.1">等有危险的活动。</tspan></text></g>
<g id="b4c-11"><rect x="1919" y="5122" width="278" height="251"/><text x="1926" y="5141.5"><tspan x="1926">3、加强校园饮食卫生及防病安全管理。要严</tspan><tspan x="1926" dy="17.1">格执行《食品卫生法》规定，严把食品从业人</tspan><tspan x="1926" dy="17.1">员健康体检、食品采购索证、运输储藏、烹饪</tspan><tspan x="1926" dy="17.1">配餐、餐具消毒、保鲜留样、人员隔离等各个</tspan><tspan x="1926" dy="17.1">环节，确保不发生食物中毒事件和投毒案件。</tspan><tspan x="1926" dy="17.1">开学前，学校必须对炊事人员进行体检，对不</tspan><tspan x="1926" dy="17.1">宜从事炊事工作的要坚决调离岗位。学校要根</tspan><tspan x="1926" dy="17.1">据卫生部门的要求做好疾病防治工作。按国家</tspan><tspan x="1926" dy="17.1">统一规划方案和指导原则，组织学生群体性预</tspan><tspan x="1926" dy="17.1">防用药。突出对高致病性甲流及冬春季传染病</tspan><tspan x="1926" dy="17.1">预防知识的宣传教育，食堂严禁购买无检疫证</tspan><tspan x="1926" dy="17.1">明的鲜、活、冻禽及其产品。要教育和培养学</tspan><tspan x="1926" dy="17.1">生养成良好的个人卫生习惯，发现异常情况应</tspan><tspan x="1926" dy="17.1">及时报告妥善处置。</tspan></text></g>
<g id="b4c-12"><rect x="1919" y="5402" width="278" height="149"/><text x="1926" y="5421.5"><tspan x="1926">4、加强校园防盗安全管理。各校要加强对学</tspan><tspan x="1926" dy="17.1">校重点部位的管理，做到制度齐全，措施到位</tspan><tspan x="1926" dy="17.1">。严格落实教职工值班和领导干部带班制度，</tspan><tspan x="1926" dy="17.1">值班人员应按时到岗，在任何情况下都不得擅</tspan><tspan x="1926" dy="17.1">离职守。值班人员要熟知报警装置和报警方法</tspan><tspan x="1926" dy="17.1">，做好值班记录。学校领导在重大节假日期间</tspan><tspan x="1926" dy="17.1">要保持通信工具畅通，保证紧急情况下领导到</tspan><tspan x="1926" dy="17.1">位，组织到位，措施到位。</tspan></text></g>
<g id="b4c-13"><rect x="1919" y="5581" width="278" height="63"/><text x="1926" y="5600.5"><tspan x="1926">5、加强校园消防安全管理。各校加强校园内</tspan><tspan x="1926" dy="17.1">消防设施建设，加强维护管理，确保消防安全</tspan><tspan x="1926" dy="17.1">。</tspan></text></g>
<g id="b4c-14"><rect x="1919" y="5674" width="278" height="81"/><text x="1926" y="5693.5"><tspan x="1926">6、加强校园用电安全管理。学校应严格遵守</tspan><tspan x="1926" dy="17.1">行业规定，加强校园用电设备和线路规范化建</tspan><tspan x="1926" dy="17.1">设，电气设备工作性能正常，避免超负荷或缺</tspan><tspan x="1926" dy="17.1">相工作现象出现。</tspan></text></g>
<g id="b4c-15"><rect x="1919" y="5785" width="278" height="149"/><text x="1926" y="5804.5"><tspan x="1926">7、加强校舍安全管理。各校要定期进行校舍</tspan><tspan x="1926" dy="17.1">勘验检查，发现险情应立即处理。各校要对防</tspan><tspan x="1926" dy="17.1">止拥挤踩踏事故的发生，从实际出发，在学生</tspan><tspan x="1926" dy="17.1">出操、集合、放学时要组织学生有序上、下楼</tspan><tspan x="1926" dy="17.1">，适当错开时间，分年级、分班级逐次下楼。</tspan><tspan x="1926" dy="17.1">要定期检查楼道、楼梯的各项设施和照明设备</tspan><tspan x="1926" dy="17.1">，准备在各楼道处安装应急照明灯数个，坚决</tspan><tspan x="1926" dy="17.1">消除管理安全隐患。</tspan></text></g>
<g id="b4c-16"><rect x="1919" y="5964" width="278" height="80"/><text x="1926" y="5983.5"><tspan x="1926">8、加强体育安全管理。切实加强体育课、课</tspan><tspan x="1926" dy="17.1">间活动的组织管理，认真做好技术要领、运动</tspan><tspan x="1926" dy="17.1">准备、整理活动等方面的指导与安全保护，防</tspan><tspan x="1926" dy="17.1">止发生意外事故。</tspan></text></g>
<g id="b4c-17"><rect x="1919" y="6074" width="278" height="81"/><text x="1926" y="6093.5"><tspan x="1926">1、积极配合公安部门及边防派出所，把侦破</tspan><tspan x="1926" dy="17.1">盗窃、敲诈、抢劫、侵害师生权益的违法犯罪</tspan><tspan x="1926" dy="17.1">活动作为工作重点，严厉打击针对师生的违法</tspan><tspan x="1926" dy="17.1">犯罪活动。</tspan></text></g>
<g id="b4c-18"><rect x="1919" y="6197" width="278" height="63"/><text x="1926" y="6216.5"><tspan x="1926">2、坚持落实周末值班行政和教师接送学生制</tspan><tspan x="1926" dy="17.1">度，防止学生往返学校途中出现打架、被社会</tspan><tspan x="1926" dy="17.1">闲杂人员敲诈、抢劫、侮辱等事件的发生。</tspan></text></g>
<g id="b4c-19"><rect x="1919" y="6303" width="278" height="46"/><text x="1926" y="6322.5"><tspan x="1926">1、安全教育第一课；制订20xx年下半年学校</tspan><tspan x="1926" dy="17.1">安全教育工作计划；</tspan></text></g>
<g id="b4c-20"><rect x="1919" y="6379" width="234" height="29"/><text x="1926" y="6398">2、开展学校安全工作主体责任活动；</text></g>
<g id="b4c-21"><rect x="1919" y="6438" width="260" height="29"/><text x="1926" y="6457">3、与新入学的学生家长签订安全责任书；</text></g>
<g id="b4c-22"><rect x="1919" y="6497" width="274" height="29"/><text x="1926" y="6516">4、班主任进行一次安全教育主题活动教育；</text></g>
<g id="b4c-23"><rect x="1919" y="6556" width="247" height="29"/><text x="1926" y="6575">5、开展学校安全工作专项检查与督查。</text></g>
<g id="b4c-24"><rect x="1919" y="6615" width="278" height="46"/><text x="1926" y="6634.5"><tspan x="1926">6、国庆节前分发并收齐"致学生家长一封信"</tspan><tspan x="1926" dy="17.1">。</tspan></text></g>
<g id="b4c-25"><rect x="1919" y="6692" width="274" height="29"/><text x="1926" y="6711">1、组织开展中小学食品安全教育宣传活动；</text></g>
<g id="b4c-26"><rect x="1919" y="6751" width="274" height="29"/><text x="1926" y="6770">2、开展学校安全教育及食品卫生教育检查；</text></g>
<g id="b4c-27"><rect x="1919" y="6810" width="278" height="46"/><text x="1926" y="6829.5"><tspan x="1926">1、在第二周"中小学生应急演练周"开展消防</tspan><tspan x="1926" dy="17.1">安全演练；</tspan></text></g>
<g id="b4c-28"><rect x="1919" y="6886" width="278" height="97"/><text x="1926" y="6905.5"><tspan x="1926">2、11月9日为全国消防日。组织展出一期森</tspan><tspan x="1926" dy="17.1">林防火黑板报、上一堂森林防火知识课、学生</tspan><tspan x="1926" dy="17.1">发一份森林防火宣传卡、写一篇森林防火作文</tspan><tspan x="1926" dy="17.1">、给家长写一封森林防火宣传信的"五个一"宣</tspan><tspan x="1926" dy="17.1">传教育活动；</tspan></text></g>
<g id="b4c-29"><rect x="1919" y="7013" width="181" height="29"/><text x="1926" y="7032">3、公共安全应急知识宣传；</text></g>
<g id="b4c-30"><rect x="1919" y="7071" width="258" height="29"/><text x="1926" y="7090">4、开展学校安全报道"好新闻"评选活动。</text></g>
<g id="b4c-31"><rect x="1919" y="7130" width="234" height="29"/><text x="1926" y="7149">1、开展12.4"全国法制宣传日活动"；</text></g>
<g id="b4c-32"><rect x="1919" y="7189" width="278" height="46"/><text x="1926" y="7208.5"><tspan x="1926">2、"平安校园"申报评审、复审工作暨20xx年</tspan><tspan x="1926" dy="17.1">学校安全、综治工作目标管理考核；</tspan></text></g>
<g id="b4c-33"><rect x="1919" y="7265" width="278" height="46"/><text x="1926" y="7284.5"><tspan x="1926">3、平安建设、食品安全、学校安全等各项工</tspan><tspan x="1926" dy="17.1">作总结并接受考核。</tspan></text></g>
<g id="b4r-1"><rect x="2224" y="3955" width="280" height="46"/><text x="2231" y="3974.5"><tspan x="2231">（二）大力加强安全工作组织制度建设，努力</tspan><tspan x="2231" dy="17.1">把校园安全及综治工作纳入正规化轨道。</tspan></text></g>
<g id="b4r-2"><rect x="2224" y="4688" width="280" height="46"/><text x="2231" y="4707.5"><tspan x="2231">（三）大力加强校园内部安全管理，努力营造</tspan><tspan x="2231" dy="17.1">安宁详和的校园环境。</tspan></text></g>
<g id="b4r-3"><rect x="2224" y="5981" width="280" height="46"/><text x="2231" y="6000.5"><tspan x="2231">（四）加强与安全职能部门的配合协作，认真</tspan><tspan x="2231" dy="17.1">整治校园周边环境。</tspan></text></g>
<g id="b4r-4"><rect x="2224" y="6185" width="134" height="29"/><text x="2231" y="6204">月份工作主题与重点</text></g>
<g id="b4r-5"><rect x="2224" y="6244" width="281" height="29"/><text x="2231" y="6263">九月份：安全工作部署与卫生防疫宣传教育月</text></g>
<g id="b4r-6"><rect x="2223" y="6624" width="187" height="29"/><text x="2230" y="6643">十月份：食品安全教育宣传月</text></g>
<g id="b4r-7"><rect x="2218" y="6751" width="174" height="29"/><text x="2225" y="6770">十一月份：应急知识宣传月</text></g>
<g id="b4r-8"><rect x="2203" y="7071" width="174" height="29"/><text x="2210" y="7090">十二月份：法制教育宣传月</text></g>
</g>
</g>
</svg>
